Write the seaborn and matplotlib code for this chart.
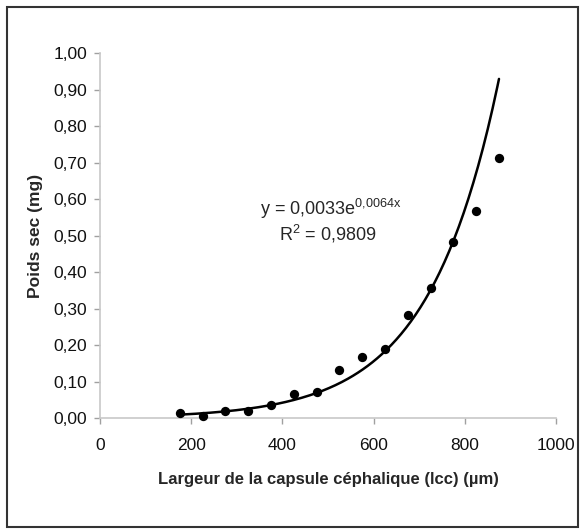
import numpy as np
import pandas as pd
import matplotlib
matplotlib.use("Agg")
import matplotlib.pyplot as plt
import matplotlib.patches as patches
from matplotlib.ticker import FuncFormatter
import seaborn as sns

# head capsule width (um) and dry weight (mg)
lcc_um = [175, 225, 275, 325, 375, 425, 475, 525, 575, 625, 675, 725, 775, 825, 875]
poids_mg = [0.014, 0.007, 0.019, 0.019, 0.037, 0.067, 0.073, 0.133, 0.169, 0.191,
            0.283, 0.356, 0.484, 0.568, 0.712]

x_ticks = [0, 200, 400, 600, 800, 1000]
y_ticks = [0.0, 0.1, 0.2, 0.3, 0.4, 0.5, 0.6, 0.7, 0.8, 0.9, 1.0]

eq_text = r"y = 0,0033e$^{\mathregular{0{,}0064x}}$"
r2_text = r"R$^{\mathregular{2}}$ = 0,9809"


def comma_fmt(v, pos):
    return f"{v:.2f}".replace(".", ",")


def main():
    sns.set_theme(style="ticks")
    plt.rcParams['font.family'] = ['Liberation Sans', 'DejaVu Sans']
    plt.rcParams['mathtext.fontset'] = 'custom'
    plt.rcParams['mathtext.rm'] = 'Liberation Sans'

    df = pd.DataFrame({'lcc': lcc_um, 'poids': poids_mg})

    # exponential trendline (least squares on ln y, like Excel)
    b, ln_a = np.polyfit(df['lcc'], np.log(df['poids']), 1)
    fit_x = np.linspace(min(lcc_um), max(lcc_um), 200)
    fit = pd.DataFrame({'lcc': fit_x, 'poids': np.exp(ln_a) * np.exp(b * fit_x)})

    fig = plt.figure(figsize=(5.82, 5.29), dpi=100)
    ax = fig.add_axes([0.1718, 0.2093, 0.7835, 0.6899])

    sns.lineplot(data=fit, x='lcc', y='poids', color='black', linewidth=1.8, ax=ax)
    pts = sns.scatterplot(data=df, x='lcc', y='poids', color='black', s=45, edgecolor='black',
                          linewidth=0, ax=ax, zorder=3)
    for coll in pts.collections:
        coll.set_clip_on(False)

    ax.set_xlim(0, 1000)
    ax.set_ylim(0, 1.0)
    ax.set_xticks(x_ticks)
    ax.set_yticks(y_ticks)
    ax.yaxis.set_major_formatter(FuncFormatter(comma_fmt))
    ax.tick_params(axis='both', labelsize=12.5, colors='#a0a0a0', labelcolor='#111111',
                   length=4, width=1)
    ax.tick_params(axis='x', pad=10)
    ax.tick_params(axis='y', pad=5)

    for side in ['top', 'right']:
        ax.spines[side].set_visible(False)
    for side in ['left', 'bottom']:
        ax.spines[side].set_color('#c8c8c8')
        ax.spines[side].set_linewidth(1.2)

    ax.set_xlabel('Largeur de la capsule céphalique (lcc) (µm)', fontsize=12,
                  fontweight='bold', labelpad=14)
    ax.set_ylabel('Poids sec (mg)', fontsize=12.5, fontweight='bold', labelpad=8)

    ax.text(505, 0.573, eq_text, ha='center', va='center', fontsize=13)
    ax.text(500, 0.505, r2_text, ha='center', va='center', fontsize=13)

    border = patches.Rectangle((6.5 / 582, 2.5 / 529), 571.5 / 582, 520 / 529,
                               transform=fig.transFigure, fill=False,
                               edgecolor='#333333', linewidth=1.5)
    fig.patches.append(border)

    fig.savefig('out.png', dpi=100)


if __name__ == "__main__":
    main()
